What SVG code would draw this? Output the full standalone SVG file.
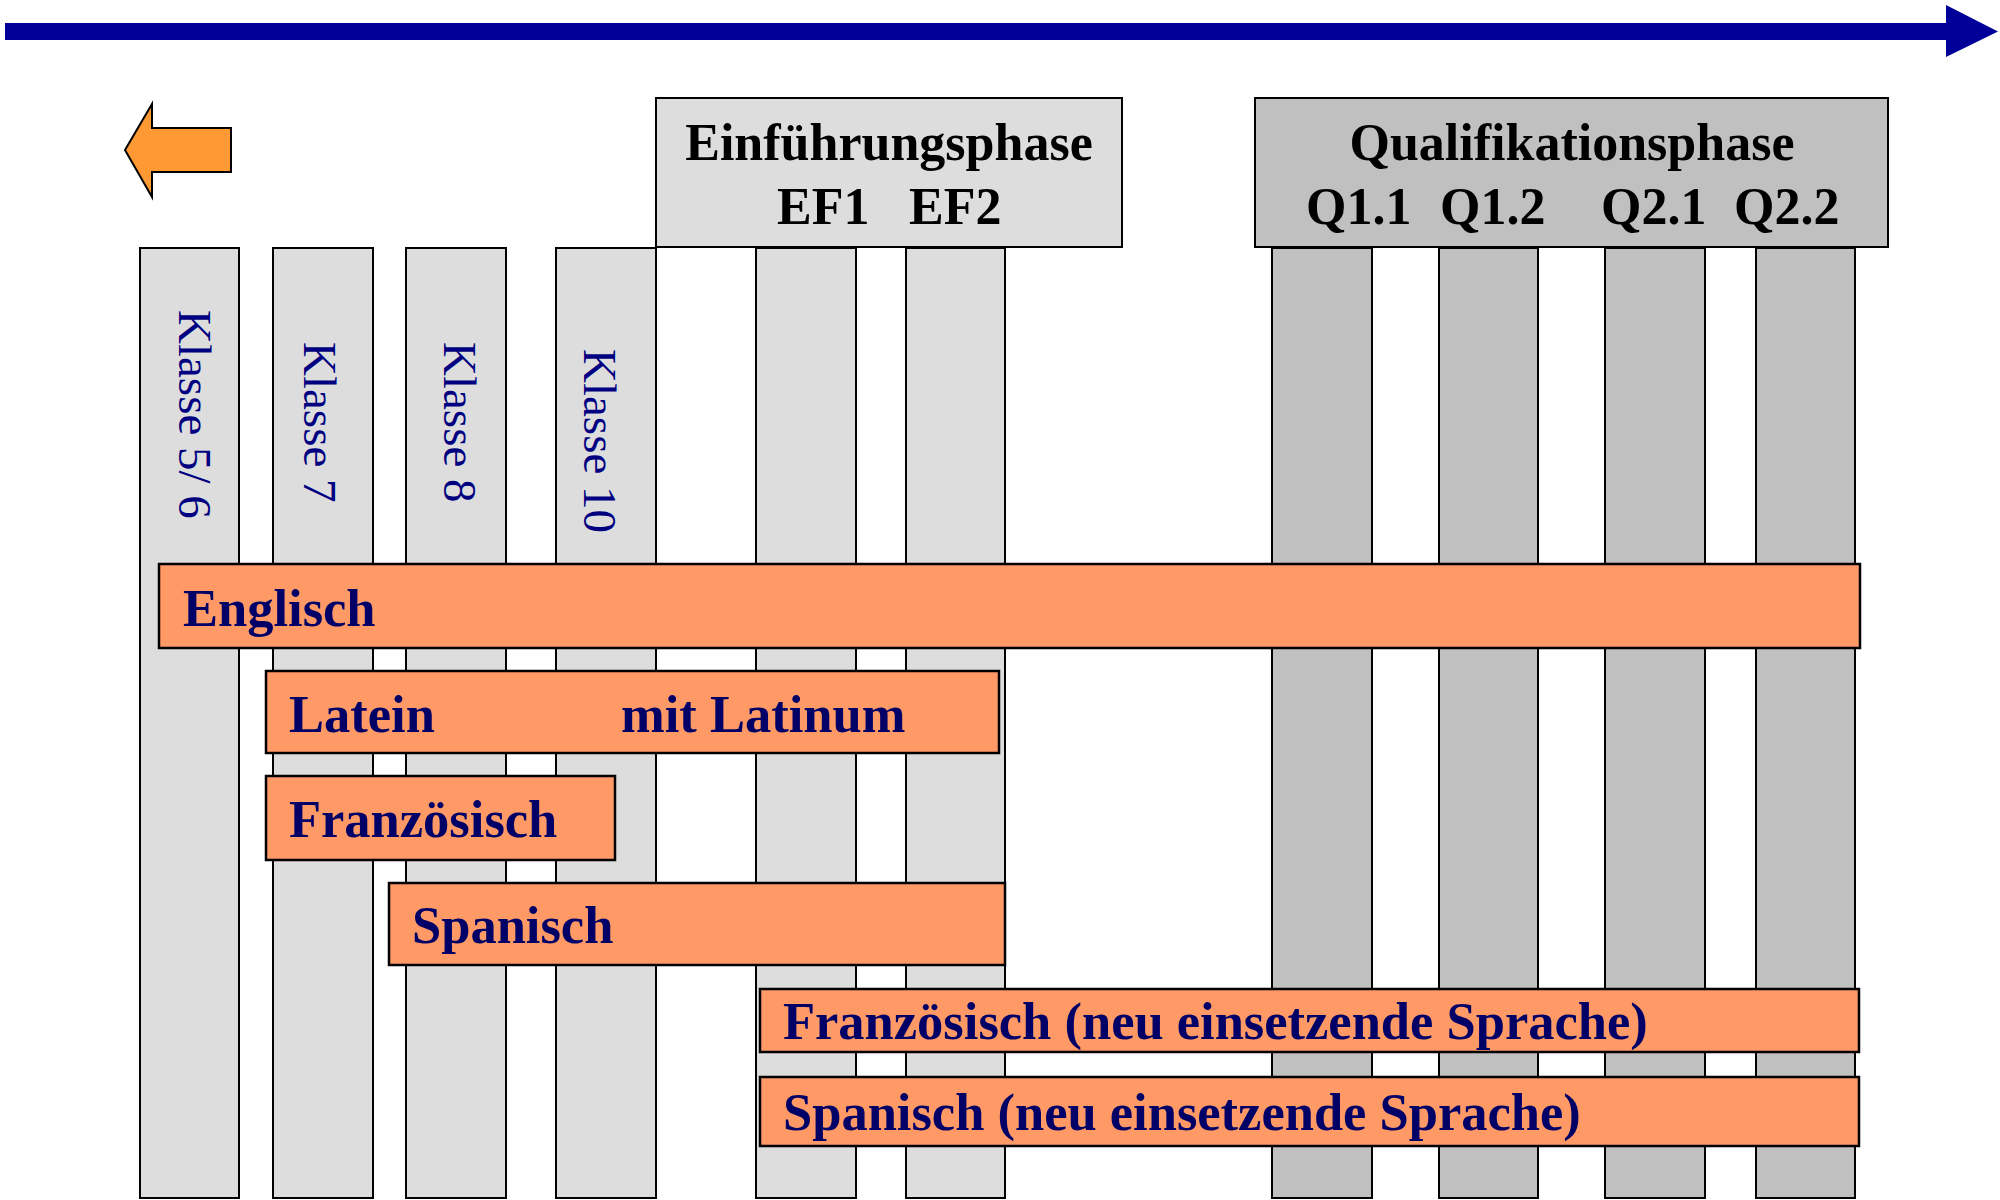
<svg xmlns="http://www.w3.org/2000/svg" width="2000" height="1200" viewBox="0 0 2000 1200">
<style>
.col{fill:#DDDDDD;stroke:#000;stroke-width:2}
.qcol{fill:#C0C0C0;stroke:#000;stroke-width:2}
.bar{fill:#FF9966;stroke:#000;stroke-width:2.5}
.hdr{font-family:"Liberation Serif","Times New Roman",serif;font-weight:bold;font-size:52px;fill:#000}
.kl{font-family:"Liberation Serif","Times New Roman",serif;font-size:47px;fill:#000080}
.lbl{font-family:"Liberation Serif","Times New Roman",serif;font-weight:bold;font-size:52.5px;fill:#000066}
</style>
<rect width="2000" height="1200" fill="#fff"/>
<g id="timeline">
<polygon points="5,23 1946,23 1946,5 1998,31.5 1946,57 1946,40 5,40" fill="#000099"/>
</g>
<g id="back-arrow">
<polygon points="125,150 152,104 152,128 231,128 231,172 152,172 152,197" fill="#FF9933" stroke="#000" stroke-width="2"/>
</g>
<g id="columns">
<g id="klasse56"><rect class="col" x="140" y="248" width="99" height="950"/><text class="kl" transform="translate(179,310) rotate(90)">Klasse 5/ 6</text></g>
<g id="klasse7"><rect class="col" x="273" y="248" width="100" height="950"/><text class="kl" transform="translate(304,342) rotate(90)">Klasse 7</text></g>
<g id="klasse8"><rect class="col" x="406" y="248" width="100" height="950"/><text class="kl" transform="translate(444,342) rotate(90)">Klasse 8</text></g>
<g id="klasse10"><rect class="col" x="556" y="248" width="100" height="950"/><text class="kl" transform="translate(584,349) rotate(90)">Klasse 10</text></g>
<g id="ef1"><rect class="col" x="756" y="248" width="100" height="950"/></g>
<g id="ef2"><rect class="col" x="906" y="248" width="99" height="950"/></g>
<g id="q11"><rect class="qcol" x="1272" y="248" width="100" height="950"/></g>
<g id="q12"><rect class="qcol" x="1439" y="248" width="99" height="950"/></g>
<g id="q21"><rect class="qcol" x="1605" y="248" width="100" height="950"/></g>
<g id="q22"><rect class="qcol" x="1756" y="248" width="99" height="950"/></g>
</g>
<g id="einfuehrungsphase">
<rect class="col" x="656" y="98" width="466" height="149"/>
<text class="hdr" x="889" y="160" text-anchor="middle">Einführungsphase</text>
<text class="hdr" x="777" y="224">EF1</text>
<text class="hdr" x="909" y="224">EF2</text>
</g>
<g id="qualifikationsphase">
<rect class="qcol" x="1255" y="98" width="633" height="149"/>
<text class="hdr" x="1572" y="160" text-anchor="middle">Qualifikationsphase</text>
<text class="hdr" x="1306" y="224">Q1.1</text>
<text class="hdr" x="1440" y="224">Q1.2</text>
<text class="hdr" x="1601" y="224">Q2.1</text>
<text class="hdr" x="1734" y="224">Q2.2</text>
</g>
<g id="englisch"><rect class="bar" x="159" y="564" width="1701" height="84"/><text class="lbl" x="183" y="626">Englisch</text></g>
<g id="latein"><rect class="bar" x="266" y="671" width="733" height="82"/><text class="lbl" x="289" y="732">Latein</text><text class="lbl" x="621" y="732">mit Latinum</text></g>
<g id="franzoesisch"><rect class="bar" x="266" y="776" width="349" height="84"/><text class="lbl" x="289" y="837">Französisch</text></g>
<g id="spanisch"><rect class="bar" x="389" y="883" width="616" height="82"/><text class="lbl" x="412" y="943">Spanisch</text></g>
<g id="franzoesisch-neu"><rect class="bar" x="760" y="989" width="1099" height="63"/><text class="lbl" x="783" y="1039">Französisch (neu einsetzende Sprache)</text></g>
<g id="spanisch-neu"><rect class="bar" x="760" y="1077" width="1099" height="69"/><text class="lbl" x="783" y="1130">Spanisch (neu einsetzende Sprache)</text></g>
</svg>
